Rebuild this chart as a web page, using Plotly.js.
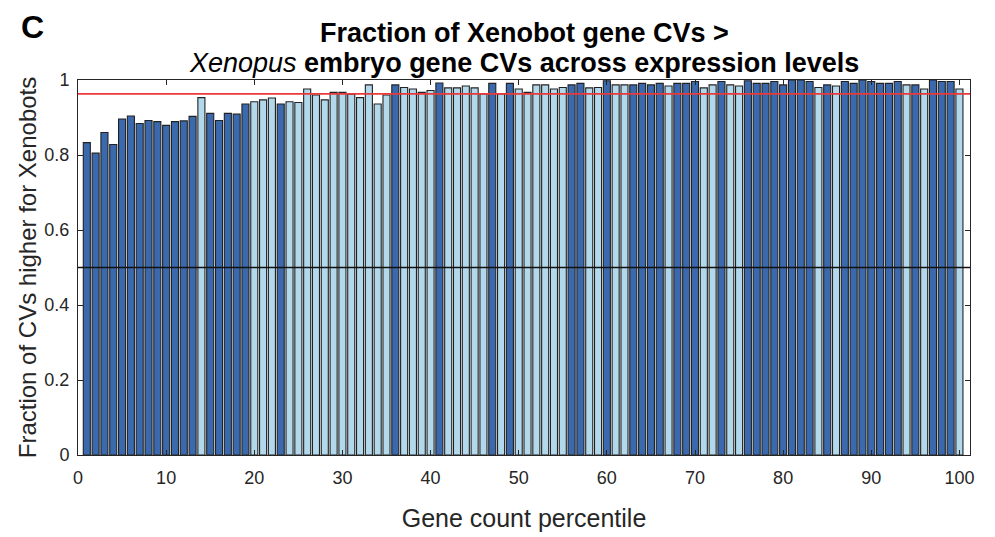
<!DOCTYPE html>
<html>
<head>
<meta charset="utf-8">
<script src="https://cdn.plot.ly/plotly-3.0.1.min.js"></script>
<style>html,body{margin:0;padding:0;background:#fff;}#chart{width:995px;height:537px;}</style>
</head>
<body>
<div id="chart"></div>
<script>
// Gene count percentile (x)
const percentiles = [
  1,2,3,4,5,6,7,8,9,10, 11,12,13,14,15,16,17,18,19,20,
  21,22,23,24,25,26,27,28,29,30, 31,32,33,34,35,36,37,38,39,40,
  41,42,43,44,45,46,47,48,49,50, 51,52,53,54,55,56,57,58,59,60,
  61,62,63,64,65,66,67,68,69,70, 71,72,73,74,75,76,77,78,79,80,
  81,82,83,84,85,86,87,88,89,90, 91,92,93,94,95,96,97,98,99,100
];

// Fraction of CVs higher for Xenobots
const fractions = [
  0.833, 0.805, 0.860, 0.828, 0.896, 0.904, 0.884, 0.892, 0.889, 0.879,
  0.889, 0.891, 0.903, 0.953, 0.911, 0.892, 0.911, 0.909, 0.936, 0.942,
  0.947, 0.952, 0.936, 0.942, 0.940, 0.976, 0.960, 0.947, 0.967, 0.967,
  0.962, 0.953, 0.987, 0.936, 0.960, 0.987, 0.980, 0.976, 0.967, 0.972,
  0.992, 0.979, 0.979, 0.984, 0.979, 0.963, 0.991, 0.963, 0.991, 0.976,
  0.967, 0.987, 0.987, 0.976, 0.980, 0.987, 0.991, 0.979, 0.980, 0.998,
  0.987, 0.987, 0.987, 0.991, 0.987, 0.991, 0.984, 0.991, 0.991, 0.996,
  0.979, 0.987, 0.996, 0.987, 0.984, 0.998, 0.991, 0.991, 0.996, 0.987,
  1.000, 1.000, 0.996, 0.980, 0.987, 0.984, 0.996, 0.991, 1.000, 0.996,
  0.991, 0.991, 0.996, 0.987, 0.987, 0.976, 1.000, 0.996, 0.996, 0.976
];

// Bar shade group: D = dark blue, L = light blue
const groups = [
  "D","D","D","D","D","D","D","D","D","D",
  "D","D","D","L","D","D","D","D","D","L",
  "L","L","D","L","L","L","L","L","L","L",
  "L","L","L","L","L","D","L","L","L","L",
  "D","L","L","L","L","L","D","L","D","L",
  "L","L","L","L","L","D","D","L","L","D",
  "L","L","D","D","D","D","L","D","D","D",
  "L","L","D","L","L","D","D","D","D","D",
  "D","D","D","L","D","L","D","D","D","D",
  "D","D","D","L","D","L","D","D","D","L"
];

const refMean = 0.963;   // red reference line
const refHalf = 0.5;     // black reference line

const xTickVals = [0,10,20,30,40,50,60,70,80,90,100];
const yTickVals = [0,0.2,0.4,0.6,0.8,1];
const yTickText = ["0","0.2","0.4","0.6","0.8","1"];

const titleLine1 = "<b>Fraction of Xenobot gene CVs &gt;</b>";
const titleLine2 = "<i>Xenopus</i><b> embryo gene CVs across expression levels</b>";
const panelLabel = "<b>C</b>";
</script>
<script>
const colorMap = {D: "#3a6aad", L: "#b2d8eb"};
const barColors = groups.map(g => colorMap[g]);

const FONT = "Liberation Sans, Arial, Helvetica, sans-serif";
const AX = "#262626";

const traces = [{
  type: "bar",
  x: percentiles,
  y: fractions,
  width: 0.8,
  marker: {color: barColors, line: {color: "#222222", width: 1.1}},
  hoverinfo: "x+y",
  showlegend: false
}];

const layout = {
  width: 995, height: 537,
  margin: {l: 78, r: 25, t: 80, b: 82},
  paper_bgcolor: "#fff", plot_bgcolor: "#fff",
  font: {family: FONT, color: AX},
  showlegend: false,
  xaxis: {
    range: [0, 101.2],
    tickmode: "array", tickvals: xTickVals,
    ticks: "inside", ticklen: 5, tickcolor: AX,
    showline: true, linecolor: AX, linewidth: 1, mirror: "ticks",
    showgrid: false, zeroline: false,
    ticklabelstandoff: 6,
    tickfont: {size: 18, color: AX},
    title: {text: "Gene count percentile", font: {size: 25, color: AX}, standoff: 22}
  },
  yaxis: {
    range: [0, 1],
    tickmode: "array", tickvals: yTickVals, ticktext: yTickText,
    ticks: "inside", ticklen: 5, tickcolor: AX,
    showline: true, linecolor: AX, linewidth: 1, mirror: "ticks",
    showgrid: false, zeroline: false,
    ticklabelstandoff: 4,
    tickfont: {size: 18, color: AX},
    title: {text: "Fraction of CVs higher for Xenobots", font: {size: 24, color: AX}, standoff: 0}
  },
  shapes: [
    {type: "line", xref: "paper", x0: 0, x1: 1, yref: "y", y0: refMean, y1: refMean,
     line: {color: "#e8393b", width: 1.6}, layer: "above"},
    {type: "line", xref: "paper", x0: 0, x1: 1, yref: "y", y0: refHalf, y1: refHalf,
     line: {color: "#111", width: 1.6}, layer: "above"}
  ],
  annotations: [
    {text: panelLabel, xref: "paper", yref: "paper", x: -0.066, y: 1.141,
     xanchor: "left", yanchor: "middle", showarrow: false,
     font: {family: FONT, size: 32, color: "#000"}},
    {text: titleLine1, xref: "paper", yref: "paper", x: 0.5, y: 1.125,
     xanchor: "center", yanchor: "middle", showarrow: false,
     font: {family: FONT, size: 27, color: "#000"}},
    {text: titleLine2, xref: "paper", yref: "paper", x: 0.5, y: 1.045,
     xanchor: "center", yanchor: "middle", showarrow: false,
     font: {family: FONT, size: 27, color: "#000"}}
  ]
};

Plotly.newPlot("chart", traces, layout, {displayModeBar: false, responsive: false});
</script>
</body>
</html>
